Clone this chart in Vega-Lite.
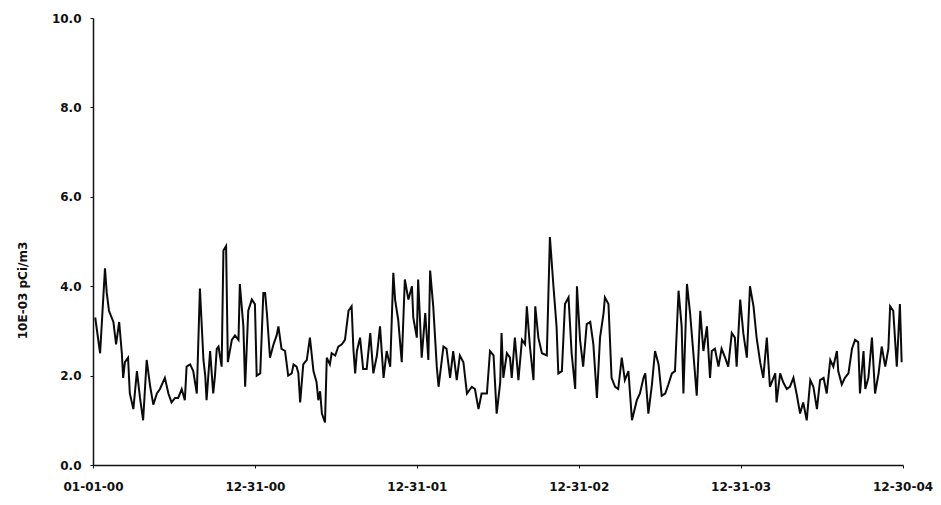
{
  "$schema": "https://vega.github.io/schema/vega-lite/v6.json",
  "width": 810,
  "height": 447,
  "autosize": {"type": "none"},
  "padding": {"left": 93, "top": 18, "right": 38, "bottom": 40},
  "background": "white",
  "config": {"view": {"stroke": null}, "font": "DejaVu Sans"},
  "data": {"values": [
    {"day":5,"v":3.3},{"day":16,"v":2.5},{"day":27,"v":4.4},{"day":31,"v":3.85},{"day":36,"v":3.45},{"day":46,"v":3.2},{"day":52,"v":2.7},{"day":59,"v":3.2},{"day":65,"v":2.5},{"day":68,"v":1.95},{"day":72,"v":2.3},{"day":79,"v":2.4},{"day":83,"v":1.6},{"day":91,"v":1.25},{"day":99,"v":2.1},{"day":106,"v":1.5},{"day":113,"v":1.0},{"day":121,"v":2.35},{"day":129,"v":1.75},{"day":136,"v":1.35},{"day":144,"v":1.6},{"day":151,"v":1.7},{"day":162,"v":1.95},{"day":170,"v":1.6},{"day":177,"v":1.4},{"day":185,"v":1.5},{"day":192,"v":1.5},{"day":200,"v":1.7},{"day":207,"v":1.45},{"day":211,"v":2.2},{"day":219,"v":2.25},{"day":226,"v":2.1},{"day":234,"v":1.6},{"day":241,"v":3.95},{"day":249,"v":2.35},{"day":253,"v":2.0},{"day":256,"v":1.45},{"day":264,"v":2.55},{"day":271,"v":1.6},{"day":275,"v":2.0},{"day":279,"v":2.6},{"day":283,"v":2.65},{"day":290,"v":2.2},{"day":294,"v":4.8},{"day":300,"v":4.9},{"day":304,"v":2.3},{"day":313,"v":2.8},{"day":320,"v":2.9},{"day":328,"v":2.8},{"day":331,"v":4.05},{"day":339,"v":3.1},{"day":343,"v":1.75},{"day":350,"v":3.45},{"day":358,"v":3.7},{"day":365,"v":3.6},{"day":369,"v":2.0},{"day":377,"v":2.05},{"day":384,"v":3.85},{"day":388,"v":3.85},{"day":392,"v":3.4},{"day":399,"v":2.4},{"day":407,"v":2.7},{"day":414,"v":2.9},{"day":418,"v":3.1},{"day":425,"v":2.6},{"day":433,"v":2.55},{"day":440,"v":2.0},{"day":448,"v":2.05},{"day":452,"v":2.25},{"day":459,"v":2.2},{"day":463,"v":2.05},{"day":467,"v":1.4},{"day":474,"v":2.25},{"day":482,"v":2.35},{"day":489,"v":2.85},{"day":497,"v":2.1},{"day":504,"v":1.85},{"day":508,"v":1.45},{"day":512,"v":1.65},{"day":516,"v":1.15},{"day":523,"v":0.95},{"day":527,"v":2.4},{"day":534,"v":2.25},{"day":538,"v":2.5},{"day":546,"v":2.45},{"day":553,"v":2.65},{"day":561,"v":2.7},{"day":568,"v":2.8},{"day":576,"v":3.45},{"day":583,"v":3.55},{"day":587,"v":2.6},{"day":591,"v":2.05},{"day":595,"v":2.55},{"day":602,"v":2.85},{"day":609,"v":2.15},{"day":617,"v":2.15},{"day":625,"v":2.95},{"day":632,"v":2.05},{"day":640,"v":2.45},{"day":647,"v":3.1},{"day":655,"v":1.95},{"day":662,"v":2.55},{"day":670,"v":2.2},{"day":677,"v":4.3},{"day":681,"v":3.7},{"day":688,"v":3.25},{"day":696,"v":2.3},{"day":703,"v":4.15},{"day":711,"v":3.7},{"day":719,"v":4.0},{"day":722,"v":3.3},{"day":730,"v":2.85},{"day":733,"v":4.15},{"day":741,"v":2.4},{"day":749,"v":3.4},{"day":756,"v":2.35},{"day":760,"v":4.35},{"day":767,"v":3.55},{"day":775,"v":2.2},{"day":779,"v":1.75},{"day":790,"v":2.65},{"day":797,"v":2.6},{"day":805,"v":1.95},{"day":812,"v":2.55},{"day":820,"v":1.9},{"day":827,"v":2.45},{"day":835,"v":2.3},{"day":843,"v":1.6},{"day":854,"v":1.75},{"day":861,"v":1.7},{"day":869,"v":1.25},{"day":876,"v":1.6},{"day":888,"v":1.6},{"day":895,"v":2.55},{"day":903,"v":2.45},{"day":910,"v":1.15},{"day":918,"v":1.85},{"day":921,"v":2.95},{"day":925,"v":1.95},{"day":933,"v":2.5},{"day":940,"v":2.4},{"day":944,"v":1.95},{"day":951,"v":2.85},{"day":959,"v":1.9},{"day":967,"v":2.8},{"day":974,"v":2.7},{"day":978,"v":3.55},{"day":985,"v":2.65},{"day":993,"v":1.9},{"day":997,"v":3.55},{"day":1004,"v":2.85},{"day":1012,"v":2.5},{"day":1023,"v":2.45},{"day":1030,"v":5.1},{"day":1038,"v":4.0},{"day":1045,"v":3.1},{"day":1049,"v":2.05},{"day":1057,"v":2.1},{"day":1064,"v":3.6},{"day":1072,"v":3.75},{"day":1079,"v":2.5},{"day":1087,"v":1.7},{"day":1091,"v":4.0},{"day":1098,"v":2.8},{"day":1105,"v":2.2},{"day":1113,"v":3.15},{"day":1121,"v":3.2},{"day":1128,"v":2.7},{"day":1136,"v":1.5},{"day":1143,"v":2.85},{"day":1151,"v":3.4},{"day":1154,"v":3.75},{"day":1162,"v":3.6},{"day":1169,"v":1.95},{"day":1177,"v":1.75},{"day":1184,"v":1.7},{"day":1192,"v":2.4},{"day":1199,"v":1.9},{"day":1207,"v":2.1},{"day":1215,"v":1.0},{"day":1226,"v":1.45},{"day":1233,"v":1.6},{"day":1241,"v":1.95},{"day":1245,"v":2.05},{"day":1252,"v":1.15},{"day":1260,"v":1.8},{"day":1267,"v":2.55},{"day":1275,"v":2.25},{"day":1282,"v":1.55},{"day":1290,"v":1.6},{"day":1297,"v":1.8},{"day":1305,"v":2.05},{"day":1312,"v":2.1},{"day":1320,"v":3.9},{"day":1327,"v":3.1},{"day":1331,"v":1.6},{"day":1339,"v":4.05},{"day":1346,"v":3.4},{"day":1353,"v":2.55},{"day":1361,"v":1.55},{"day":1369,"v":3.45},{"day":1376,"v":2.55},{"day":1384,"v":3.1},{"day":1391,"v":1.95},{"day":1395,"v":2.55},{"day":1402,"v":2.6},{"day":1410,"v":2.2},{"day":1417,"v":2.6},{"day":1425,"v":2.4},{"day":1432,"v":2.2},{"day":1440,"v":2.95},{"day":1447,"v":2.85},{"day":1451,"v":2.2},{"day":1459,"v":3.7},{"day":1466,"v":2.95},{"day":1474,"v":2.4},{"day":1481,"v":4.0},{"day":1489,"v":3.55},{"day":1496,"v":2.85},{"day":1504,"v":2.3},{"day":1511,"v":1.95},{"day":1519,"v":2.85},{"day":1526,"v":1.75},{"day":1538,"v":2.05},{"day":1541,"v":1.4},{"day":1549,"v":2.05},{"day":1556,"v":1.85},{"day":1564,"v":1.7},{"day":1571,"v":1.75},{"day":1579,"v":1.95},{"day":1587,"v":1.55},{"day":1594,"v":1.15},{"day":1601,"v":1.4},{"day":1609,"v":1.0},{"day":1617,"v":1.9},{"day":1624,"v":1.75},{"day":1632,"v":1.25},{"day":1639,"v":1.9},{"day":1647,"v":1.95},{"day":1654,"v":1.6},{"day":1662,"v":2.35},{"day":1669,"v":2.2},{"day":1677,"v":2.55},{"day":1680,"v":2.1},{"day":1688,"v":1.8},{"day":1695,"v":1.95},{"day":1703,"v":2.05},{"day":1711,"v":2.6},{"day":1718,"v":2.8},{"day":1725,"v":2.75},{"day":1729,"v":1.6},{"day":1737,"v":2.55},{"day":1741,"v":1.7},{"day":1748,"v":1.95},{"day":1756,"v":2.85},{"day":1763,"v":1.6},{"day":1771,"v":2.05},{"day":1778,"v":2.65},{"day":1786,"v":2.2},{"day":1793,"v":2.6},{"day":1797,"v":3.55},{"day":1804,"v":3.45},{"day":1812,"v":2.2},{"day":1816,"v":3.0},{"day":1819,"v":3.6},{"day":1823,"v":2.3}
  ]},
  "mark": {"type": "line", "color": "#0a0a0a", "strokeWidth": 2, "clip": true},
  "encoding": {
    "x": {
      "field": "day", "type": "quantitative",
      "scale": {"domain": [0, 1826], "nice": false, "zero": false},
      "axis": {
        "title": null, "grid": false,
        "values": [0, 365, 730, 1095, 1460, 1825],
        "labelExpr": "['01-01-00','12-31-00','12-31-01','12-31-02','12-31-03','12-30-04'][round(datum.value/365)]",
        "labelFont": "DejaVu Sans", "labelFontSize": 12, "labelFontWeight": "bold", "labelColor": "#111111",
        "labelPadding": 13, "tickSize": 3, "tickColor": "#111111",
        "domainColor": "#111111", "domainWidth": 1.5, "labelFlush": false
      }
    },
    "y": {
      "field": "v", "type": "quantitative",
      "scale": {"domain": [0, 10], "nice": false},
      "axis": {
        "title": "10E-03 pCi/m3", "grid": false,
        "values": [0, 2, 4, 6, 8, 10], "format": ".1f",
        "labelFont": "DejaVu Sans", "labelFontSize": 12, "labelFontWeight": "bold", "labelColor": "#111111",
        "labelPadding": 9, "tickSize": 3, "tickColor": "#111111",
        "domainColor": "#111111", "domainWidth": 1.5,
        "titleFont": "DejaVu Sans", "titleFontSize": 12, "titleFontWeight": "bold", "titleColor": "#111111",
        "titleX": -71, "titleY": 272, "titleAngle": -90, "titleBaseline": "middle", "titleAlign": "center"
      }
    }
  }
}
